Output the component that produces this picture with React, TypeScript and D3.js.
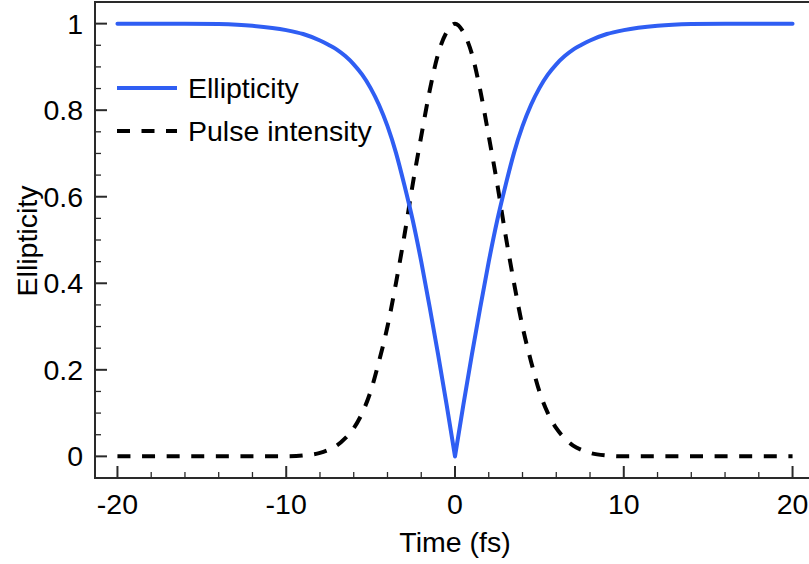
import { useRef, useEffect } from 'react'
import * as d3 from 'd3'

const WIDTH = 809
const HEIGHT = 564

// time axis (fs), denser near the pulse
const TIME = [
  -20, -18, -16, -14, -12, -10, -9, -8, -7.5, -7, -6.5, -6, -5.5, -5, -4.5, -4, -3.5, -3, -2.5, -2, -1.5, -1, -0.5,
  0,
  0.5, 1, 1.5, 2, 2.5, 3, 3.5, 4, 4.5, 5, 5.5, 6, 6.5, 7, 7.5, 8, 9, 10, 12, 14, 16, 18, 20,
]
const ELLIPTICITY = [
  1, 1, 1, 0.999, 0.995, 0.985, 0.976, 0.961, 0.951, 0.94, 0.925, 0.906, 0.882, 0.851, 0.812, 0.763, 0.702, 0.627, 0.545, 0.45, 0.345, 0.235, 0.12,
  0,
  0.12, 0.235, 0.345, 0.45, 0.545, 0.627, 0.702, 0.763, 0.812, 0.851, 0.882, 0.906, 0.925, 0.94, 0.951, 0.961, 0.976, 0.985, 0.995, 0.999, 1, 1, 1,
]
const PULSE = [
  0, 0, 0, 0, 0, 0, 0.002, 0.008, 0.015, 0.025, 0.042, 0.065, 0.1, 0.15, 0.22, 0.3, 0.4, 0.51, 0.63, 0.74, 0.845, 0.93, 0.98,
  1,
  0.98, 0.93, 0.845, 0.74, 0.63, 0.51, 0.4, 0.3, 0.22, 0.15, 0.1, 0.065, 0.042, 0.025, 0.015, 0.008, 0.002, 0, 0, 0, 0, 0, 0,
]

const X_MAJOR = [-20, -10, 0, 10, 20]
const X_MINOR = d3.range(-20, 20.01, 2)
const Y_MAJOR = [0, 0.2, 0.4, 0.6, 0.8, 1]
const Y_MINOR = d3.range(0, 1.051, 0.05)

const LEGEND = ['Ellipticity', 'Pulse intensity']
const BLUE = '#2f5ef3'
const FONT = '"Liberation Sans", Arial, Helvetica, sans-serif'
const FS = 28.5

export default function App() {
  const svgRef = useRef<SVGSVGElement>(null)

  useEffect(() => {
    const svg = d3.select(svgRef.current)
    svg.selectAll('*').remove()

    const x = d3.scaleLinear().domain([-21.33, 21.33]).range([95, 815])
    const y = d3.scaleLinear().domain([-0.05, 1.05]).range([478, 2])

    const pts = TIME.map((t, i) => ({ t, e: ELLIPTICITY[i], p: PULSE[i] }))

    // --- frame ---
    svg.append('rect')
      .attr('x', x.range()[0]).attr('y', y.range()[1])
      .attr('width', x.range()[1] - x.range()[0])
      .attr('height', y.range()[0] - y.range()[1])
      .attr('fill', 'none')
      .attr('stroke', '#2a2a2a')
      .attr('stroke-width', 2)

    // --- ticks (inward) ---
    const ticks = svg.append('g').attr('stroke', '#2a2a2a')
    X_MINOR.forEach(v => {
      const major = X_MAJOR.includes(Math.round(v))
      ticks.append('line')
        .attr('x1', x(v)).attr('x2', x(v))
        .attr('y1', 478).attr('y2', 478 - (major ? 12 : 6))
        .attr('stroke-width', major ? 2 : 1.3)
    })
    Y_MINOR.forEach(v => {
      const major = Y_MAJOR.some(m => Math.abs(m - v) < 1e-6)
      ticks.append('line')
        .attr('x1', 95).attr('x2', 95 + (major ? 12 : 6))
        .attr('y1', y(v)).attr('y2', y(v))
        .attr('stroke-width', major ? 2 : 1.3)
    })

    // --- tick labels ---
    svg.append('g')
      .selectAll('text')
      .data(X_MAJOR)
      .join('text')
      .attr('x', d => x(d))
      .attr('y', 514)
      .attr('text-anchor', 'middle')
      .attr('font-family', FONT)
      .attr('font-size', FS)
      .text(d => String(d))

    svg.append('g')
      .selectAll('text')
      .data(Y_MAJOR)
      .join('text')
      .attr('x', 83)
      .attr('y', d => y(d) + 10)
      .attr('text-anchor', 'end')
      .attr('font-family', FONT)
      .attr('font-size', FS)
      .text(d => String(d))

    // --- axis titles ---
    svg.append('text')
      .attr('x', 455).attr('y', 552)
      .attr('text-anchor', 'middle')
      .attr('font-family', FONT)
      .attr('font-size', FS)
      .text('Time (fs)')

    svg.append('text')
      .attr('transform', 'translate(37,241) rotate(-90)')
      .attr('text-anchor', 'middle')
      .attr('font-family', FONT)
      .attr('font-size', FS)
      .text('Ellipticity')

    // --- curves ---
    const pulseLine = d3.line<{ t: number; e: number; p: number }>()
      .x(d => x(d.t))
      .y(d => y(d.p))
      .curve(d3.curveMonotoneX)
    svg.append('path')
      .datum(pts)
      .attr('fill', 'none')
      .attr('stroke', '#000')
      .attr('stroke-width', 4)
      .attr('stroke-dasharray', '13,11.6')
      .attr('d', pulseLine)

    // ellipticity: two monotone halves so the dip stays a sharp V
    const ellLine = d3.line<{ t: number; e: number; p: number }>()
      .x(d => x(d.t))
      .y(d => y(d.e))
      .curve(d3.curveMonotoneX)
    const left = pts.filter(d => d.t <= 0)
    const right = pts.filter(d => d.t >= 0)
    svg.append('path')
      .attr('fill', 'none')
      .attr('stroke', BLUE)
      .attr('stroke-width', 4)
      .attr('stroke-linecap', 'round')
      .attr('stroke-linejoin', 'round')
      .attr('d', (ellLine(left) ?? '') + (ellLine(right) ?? ''))

    // --- legend ---
    const lg = svg.append('g')
    lg.append('line')
      .attr('x1', 117).attr('x2', 177)
      .attr('y1', 88).attr('y2', 88)
      .attr('stroke', BLUE).attr('stroke-width', 4)
    lg.append('line')
      .attr('x1', 117).attr('x2', 177)
      .attr('y1', 131).attr('y2', 131)
      .attr('stroke', '#000').attr('stroke-width', 4)
      .attr('stroke-dasharray', '13,11.5')
    LEGEND.forEach((name, i) => {
      lg.append('text')
        .attr('x', 188).attr('y', 98 + i * 43)
        .attr('font-family', FONT)
        .attr('font-size', FS)
        .text(name)
    })
  }, [])

  return (
    <div style={{ position: 'fixed', left: 0, top: 0, width: WIDTH, height: HEIGHT, background: '#fff', overflow: 'hidden' }}>
      <svg ref={svgRef} width={WIDTH} height={HEIGHT} style={{ display: 'block' }} />
    </div>
  )
}
